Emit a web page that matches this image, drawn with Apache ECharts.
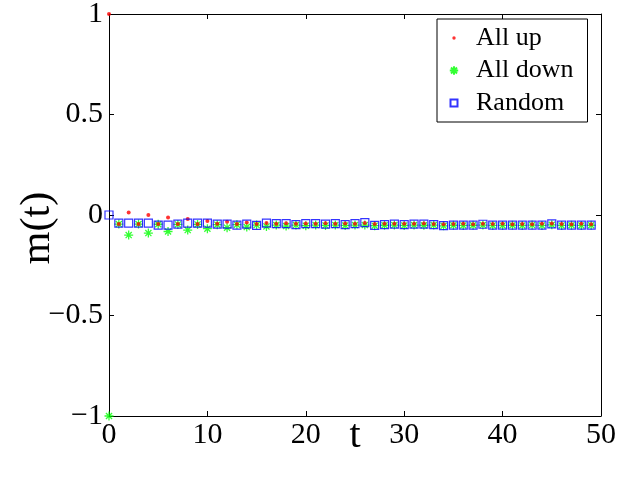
<!DOCTYPE html>
<html>
<head>
<meta charset="utf-8">
<script src="https://cdn.jsdelivr.net/npm/echarts@6/dist/echarts.min.js"></script>
<style>
html,body{margin:0;padding:0;background:#fff;}
#chart{width:635px;height:477px;}
</style>
</head>
<body>
<div id="chart"></div>
<script>
var tValues = [];
for (var i = 0; i < 50; i++) tValues.push(i);

var allUp = [1, -0.045, 0.013, -0.045, 0.0, -0.045, -0.013, -0.045, -0.02, -0.045,
  -0.03, -0.044, -0.033, -0.045, -0.037, -0.045, -0.04, -0.043, -0.041, -0.044,
  -0.042, -0.043, -0.041, -0.044, -0.042, -0.043, -0.040, -0.045, -0.043, -0.044,
  -0.043, -0.044, -0.042, -0.045, -0.046, -0.045, -0.044, -0.046, -0.043, -0.045,
  -0.044, -0.046, -0.045, -0.046, -0.044, -0.042, -0.045, -0.046, -0.044, -0.046];

var allDown = [-1, -0.045, -0.10, -0.045, -0.09, -0.046, -0.082, -0.047, -0.075, -0.047,
  -0.068, -0.048, -0.063, -0.048, -0.06, -0.05, -0.057, -0.05, -0.055, -0.05,
  -0.053, -0.05, -0.052, -0.05, -0.052, -0.05, -0.05, -0.053, -0.051, -0.05,
  -0.052, -0.05, -0.051, -0.05, -0.054, -0.051, -0.052, -0.051, -0.05, -0.052,
  -0.052, -0.051, -0.052, -0.05, -0.052, -0.049, -0.052, -0.051, -0.052, -0.051];

var randomInit = [0, -0.040, -0.040, -0.040, -0.040, -0.050, -0.050, -0.045, -0.040, -0.040,
  -0.040, -0.045, -0.045, -0.050, -0.045, -0.052, -0.040, -0.043, -0.043, -0.048,
  -0.043, -0.043, -0.045, -0.043, -0.048, -0.043, -0.038, -0.052, -0.048, -0.045,
  -0.048, -0.045, -0.045, -0.048, -0.053, -0.050, -0.050, -0.050, -0.046, -0.050,
  -0.050, -0.050, -0.050, -0.050, -0.050, -0.044, -0.050, -0.050, -0.050, -0.050];

var seriesNames = ['All up', 'All down', 'Random'];
var xTicks = [0, 10, 20, 30, 40, 50];
var yTicks = [-1, -0.5, 0, 0.5, 1];

function pairs(ys) { return tValues.map(function (t, i) { return [t, ys[i]]; }); }

var FONT = 'Liberation Serif';
var asterisk = 'path://M0,5L10,5M5,0L5,10M1.6,1.6L8.4,8.4M8.4,1.6L1.6,8.4';
var iconDot = 'path://M0,0M20,20M10,8.3A1.7,1.7 0 1 1 10,11.7A1.7,1.7 0 1 1 10,8.3Z';
var iconStar = 'path://M0,0M20,20M5.8,10L14.2,10M10,5.8L10,14.2M7,7L13,13M13,7L7,13';
var iconSquare = 'path://M0,0M20,20M6.5,6.5L13.5,6.5L13.5,13.5L6.5,13.5Z';

function fmt(v) { return String(v).replace('-', '\u2212'); }

var axisCommon = {
  axisLine: { show: true, onZero: false, lineStyle: { color: '#000', width: 1 } },
  axisTick: { show: true, inside: true, length: 5, lineStyle: { color: '#000' } },
  splitLine: { show: false }
};

var legendText = { fontFamily: FONT, fontSize: 26, color: '#000', lineHeight: 26 };

var chart = echarts.init(document.getElementById('chart'), null, { renderer: 'canvas' });
chart.setOption({
  animation: false,
  backgroundColor: '#fff',
  textStyle: { fontFamily: FONT, color: '#000' },
  grid: { left: 109, right: 34, top: 14, bottom: 61, containLabel: false, outerBoundsMode: 'none' },
  legend: {
    orient: 'vertical',
    left: 437, top: 19,
    padding: [6, 14, 6, 6],
    itemGap: 6.5,
    itemWidth: 34, itemHeight: 20,
    backgroundColor: '#fff',
    borderColor: '#000', borderWidth: 1,
    selectedMode: false,
    textStyle: legendText,
    data: [
      { name: seriesNames[0], icon: iconDot },
      { name: seriesNames[1], icon: iconStar },
      { name: seriesNames[2], icon: iconSquare }
    ]
  },
  xAxis: [
    Object.assign({}, axisCommon, {
      type: 'value', min: xTicks[0], max: xTicks[xTicks.length - 1], interval: 10,
      position: 'bottom',
      name: 't', nameLocation: 'middle', nameGap: 0, nameMoveOverlap: false,
      nameTextStyle: { fontFamily: FONT, fontSize: 40, color: '#000' },
      axisLabel: { margin: 4, fontFamily: FONT, fontSize: 30, color: '#000', formatter: fmt }
    }),
    Object.assign({}, axisCommon, {
      type: 'value', min: xTicks[0], max: xTicks[xTicks.length - 1], interval: 10,
      position: 'top', axisLabel: { show: false }
    })
  ],
  yAxis: [
    Object.assign({}, axisCommon, {
      type: 'value', min: yTicks[0], max: yTicks[yTicks.length - 1], interval: 0.5,
      position: 'left',
      name: 'm(t)', nameLocation: 'middle', nameGap: 50, nameRotate: 90, nameMoveOverlap: false,
      nameTextStyle: { fontFamily: FONT, fontSize: 42, color: '#000', padding: [0, 26, 0, 0] },
      axisLabel: { margin: 6, fontFamily: FONT, fontSize: 30, color: '#000', formatter: fmt }
    }),
    Object.assign({}, axisCommon, {
      type: 'value', min: yTicks[0], max: yTicks[yTicks.length - 1], interval: 0.5,
      position: 'right', axisLabel: { show: false }
    })
  ],
  series: [
    {
      name: seriesNames[1], type: 'scatter', data: pairs(allDown), z: 2,
      symbol: asterisk, symbolSize: 9,
      itemStyle: { color: 'rgba(0,0,0,0)', borderColor: '#00ff00', borderWidth: 1.3 }
    },
    {
      name: seriesNames[0], type: 'scatter', data: pairs(allUp), z: 3,
      symbol: 'circle', symbolSize: 4,
      itemStyle: { color: '#ff0000' }
    },
    {
      name: seriesNames[2], type: 'scatter', data: pairs(randomInit), z: 4,
      symbol: 'rect', symbolSize: 8,
      itemStyle: { color: 'rgba(0,0,0,0)', borderColor: '#0000ff', borderWidth: 1.2 }
    }
  ]
});
</script>
</body>
</html>
